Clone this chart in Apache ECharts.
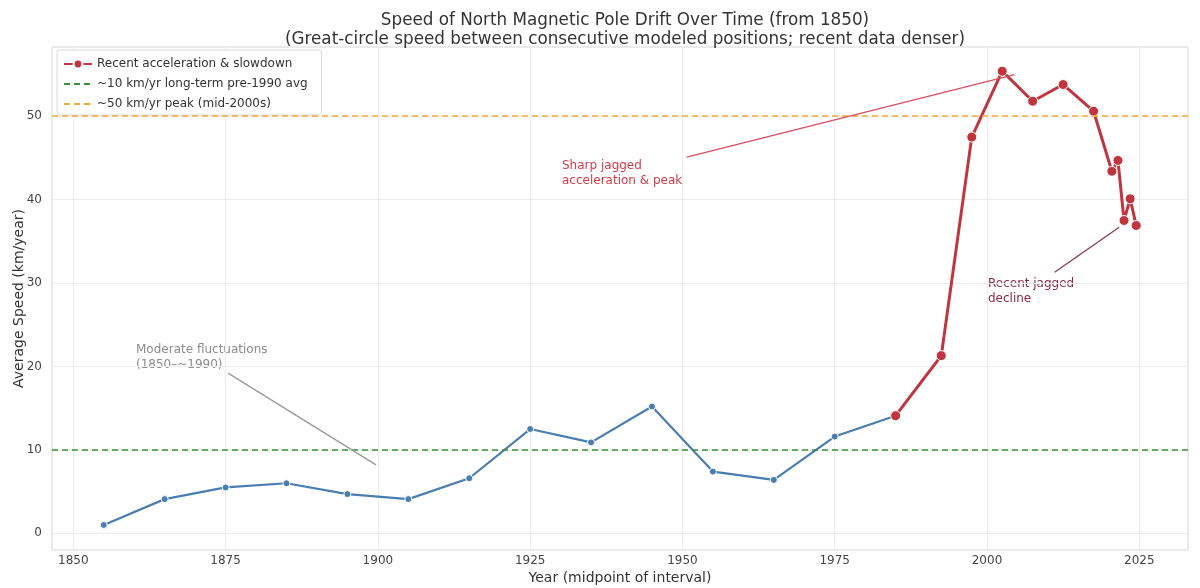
<!DOCTYPE html>
<html>
<head>
<meta charset="utf-8">
<script src="https://cdn.jsdelivr.net/npm/echarts@6/dist/echarts.min.js"></script>
<style>
  html, body { margin: 0; padding: 0; background: #fff; }
  #chart { width: 1200px; height: 588px; }
</style>
</head>
<body>
<div id="chart"></div>
<script>
// early / moderate period (blue)
const earlyYears = [1855, 1865, 1875, 1885, 1895, 1905, 1915, 1925, 1935, 1945, 1955, 1965, 1975, 1985];
const earlySpeed = [1.0, 4.1, 5.5, 6.0, 4.7, 4.1, 6.6, 12.5, 10.9, 15.2, 7.4, 6.4, 11.6, 14.1];

// recent acceleration & slowdown (red)
const recentYears = [1985, 1992.5, 1997.5, 2002.5, 2007.5, 2012.5, 2017.5, 2020.5, 2021.5, 2022.5, 2023.5, 2024.5];
const recentSpeed = [14.1, 21.3, 47.5, 55.4, 51.8, 53.8, 50.6, 43.4, 44.7, 37.5, 40.1, 36.9];

// reference levels
const longTermAvg = 10;
const peakLevel = 50;

const xTicks = [1850, 1875, 1900, 1925, 1950, 1975, 2000, 2025];
const yTicks = [0, 10, 20, 30, 40, 50];

const font = 'DejaVu Sans';
const noSymbol = { color: 'rgba(0,0,0,0)', borderWidth: 0 };

const chart = echarts.init(document.getElementById('chart'));

const option = {
    backgroundColor: '#fff',
    animation: false,
    textStyle: { fontFamily: font },
    title: {
        text: 'Speed of North Magnetic Pole Drift Over Time (from 1850)\n(Great-circle speed between consecutive modeled positions; recent data denser)',
        left: 620,
        textAlign: 'center',
        top: 6,
        textStyle: { fontFamily: font, fontSize: 16.8, fontWeight: 'normal', color: '#333', lineHeight: 19 }
    },
    legend: {
        left: 57,
        top: 50,
        orient: 'vertical',
        backgroundColor: '#fff',
        borderColor: '#d8d8d8',
        borderWidth: 1,
        borderRadius: 3,
        padding: [8, 14, 5, 6],
        itemGap: 8,
        itemWidth: 28,
        itemHeight: 11,
        textStyle: { fontFamily: font, fontSize: 12, color: '#333' },
        data: [
            { name: 'Recent acceleration & slowdown' },
            { name: '~10 km/yr long-term pre-1990 avg', itemStyle: noSymbol },
            { name: '~50 km/yr peak (mid-2000s)', itemStyle: noSymbol }
        ]
    },
    grid: {
        left: 52, right: 12, top: 47, bottom: 38,
        outerBoundsMode: 'none', containLabel: false,
        show: true, borderColor: '#d6d6d6', borderWidth: 1
    },
    xAxis: {
        type: 'value',
        min: 1846.5,
        max: 2033,
        name: 'Year (midpoint of interval)',
        nameLocation: 'middle',
        nameGap: 21,
        nameMoveOverlap: false,
        nameTextStyle: { fontFamily: font, fontSize: 14, color: '#333', verticalAlign: 'top' },
        axisLine: { show: false },
        axisTick: { show: false, customValues: xTicks },
        axisLabel: { customValues: xTicks, formatter: v => String(v), color: '#444', fontSize: 12, margin: 5 },
        splitLine: { show: true, lineStyle: { color: '#ececec', width: 1 } }
    },
    yAxis: {
        type: 'value',
        min: -2,
        max: 58.3,
        name: 'Average Speed (km/year)',
        nameLocation: 'middle',
        nameGap: 26,
        nameMoveOverlap: false,
        nameTextStyle: { fontFamily: font, fontSize: 14, color: '#333' },
        axisLine: { show: false },
        axisTick: { show: false, customValues: yTicks },
        axisLabel: { customValues: yTicks, color: '#444', fontSize: 12, margin: 10 },
        splitLine: { show: true, lineStyle: { color: '#ececec', width: 1 } }
    },
    series: [
        {
            name: 'Moderate fluctuations',
            type: 'line',
            data: earlyYears.map((y, i) => [y, earlySpeed[i]]),
            symbol: 'circle',
            symbolSize: 7,
            z: 3,
            lineStyle: { color: '#4a7db0', width: 2.2 },
            itemStyle: { color: '#4a7db0', borderColor: '#fff', borderWidth: 1 }
        },
        {
            name: 'Recent acceleration & slowdown',
            type: 'line',
            data: recentYears.map((y, i) => [y, recentSpeed[i]]),
            symbol: 'circle',
            symbolSize: 10,
            z: 4,
            lineStyle: { color: '#c0363f', width: 3 },
            itemStyle: { color: '#c0363f', borderColor: '#fff', borderWidth: 1 }
        },
        {
            name: '~10 km/yr long-term pre-1990 avg',
            type: 'line',
            data: [],
            symbol: 'none',
            itemStyle: { color: '#3d8f3d' },
            lineStyle: { color: '#3d8f3d', width: 1.6, type: [6, 4] },
            markLine: {
                silent: true,
                symbol: 'none',
                label: { show: false },
                lineStyle: { color: '#3d8f3d', width: 1.6, type: [6, 4] },
                data: [{ yAxis: longTermAvg }]
            }
        },
        {
            name: '~50 km/yr peak (mid-2000s)',
            type: 'line',
            data: [],
            symbol: 'none',
            itemStyle: { color: '#f2a93b' },
            lineStyle: { color: '#f2a93b', width: 1.6, type: [6, 4] },
            markLine: {
                silent: true,
                symbol: 'none',
                label: { show: false },
                lineStyle: { color: '#f2a93b', width: 1.6, type: [6, 4] },
                data: [{ yAxis: peakLevel }]
            }
        },
        {
            // annotation arrows
            name: 'arrows',
            type: 'line',
            data: [],
            markLine: {
                silent: true,
                symbol: ['none', 'arrow'],
                symbolSize: [0, 8],
                label: { show: false },
                data: [
                    [{ coord: [1950.7, 45.1], lineStyle: { color: '#d9505c', width: 1.3, type: 'solid' } }, { coord: [2004.5, 55.0] }],
                    [{ coord: [2011.1, 31.3], lineStyle: { color: '#8a3a52', width: 1.3, type: 'solid' } }, { coord: [2021.7, 36.7] }],
                    [{ coord: [1875.4, 19.2], lineStyle: { color: '#999', width: 1.3, type: 'solid' } }, { coord: [1899.7, 8.2] }]
                ]
            }
        }
    ],
    graphic: [
        {
            type: 'text', left: 562, top: 158,
            style: { text: 'Sharp jagged\nacceleration & peak', fill: '#d23a48', font: '12px "DejaVu Sans"', lineHeight: 15 }
        },
        {
            type: 'text', left: 988, top: 276,
            style: { text: 'Recent jagged\ndecline', fill: '#8a2a44', font: '12px "DejaVu Sans"', lineHeight: 15 }
        },
        {
            type: 'text', left: 136, top: 342,
            style: { text: 'Moderate fluctuations\n(1850–~1990)', fill: '#8c8c8c', font: '12px "DejaVu Sans"', lineHeight: 15 }
        }
    ]
};

chart.setOption(option);
</script>
</body>
</html>
